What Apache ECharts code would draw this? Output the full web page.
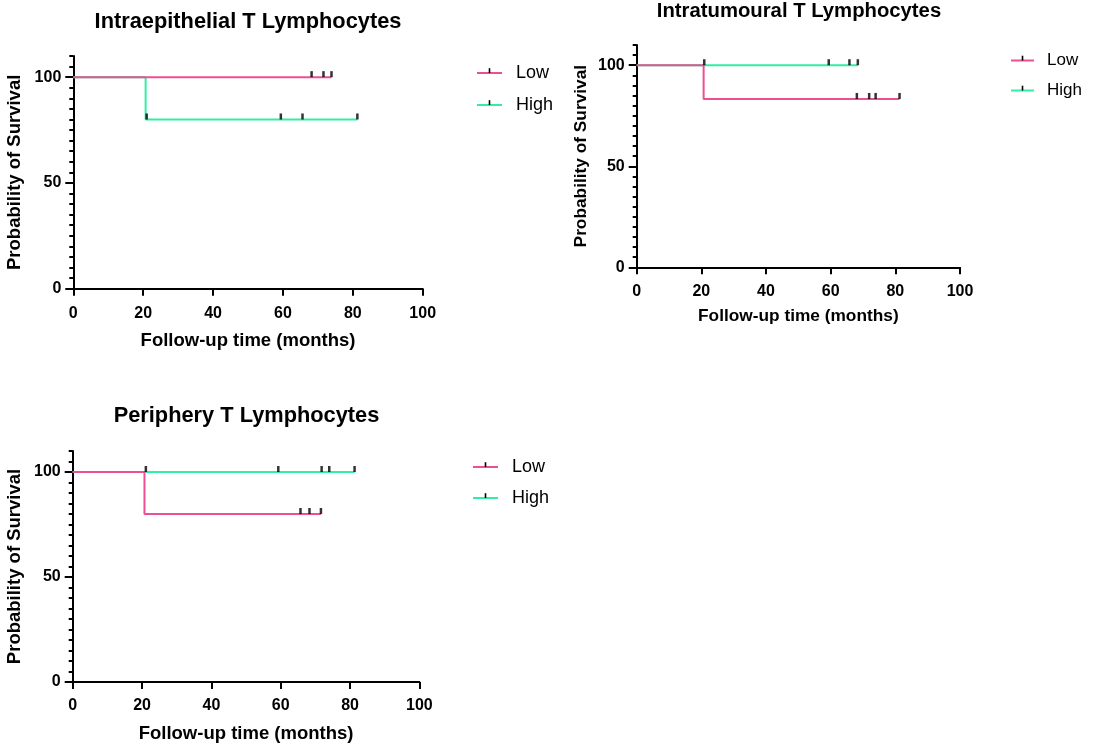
<!DOCTYPE html>
<html>
<head>
<meta charset="utf-8">
<script src="https://cdn.jsdelivr.net/npm/echarts@6/dist/echarts.min.js"></script>
<style>
html,body{margin:0;padding:0;background:#fff;}
#main{width:1097px;height:744px;}
</style>
</head>
<body>
<div id="main"></div>
<script>
// ---- Data (Kaplan-Meier steps [months, % survival] and censor marks) ----
const titles = ['Intraepithelial T Lymphocytes', 'Intratumoural T Lymphocytes', 'Periphery T Lymphocytes'];
const groupNames = ['Low', 'High'];
const xTickValues = [0, 20, 40, 60, 80, 100];
const yTickValues = [0, 50, 100];

// Intraepithelial
const ieLowSteps = [[0, 100], [73.9, 100]];
const ieLowCensor = [[68.2, 100], [71.6, 100], [73.9, 100]];
const ieHighSteps = [[0, 100], [20.7, 80], [81.3, 80]];
const ieHighCensor = [[21.0, 80], [59.4, 80], [65.6, 80], [81.3, 80]];

// Intratumoural
const itLowSteps = [[0, 100], [20.7, 83.3], [81.3, 83.3]];
const itLowCensor = [[68.1, 83.3], [71.9, 83.3], [73.9, 83.3], [81.3, 83.3]];
const itHighSteps = [[0, 100], [68.4, 100]];
const itHighCensor = [[20.9, 100], [59.4, 100], [65.8, 100], [68.4, 100]];

// Periphery
const peLowSteps = [[0, 100], [20.7, 80], [71.6, 80]];
const peLowCensor = [[65.7, 80], [68.3, 80], [71.6, 80]];
const peHighSteps = [[0, 100], [81.3, 100]];
const peHighCensor = [[21.1, 100], [59.3, 100], [71.8, 100], [74.0, 100], [81.3, 100]];

// ---- Styling / layout ----
const FONT = '"Liberation Sans", Arial, Helvetica, sans-serif';
const PINK = '#EE4E93';
const GREEN = '#2EF0A2';
const legendTickPath = 'path://M0,0 M14,14 M6,1 L8,1 L8,7 L6,7 Z';

const panels = [
  { grid: { left: 73.3, top: 56, width: 349.4, height: 232.7 },
    title: { x: 248, y: 10.5, size: 21.8 }, tick: 16, name: 18.5, yGap: 49, xGap: 43, lm: 17,
    legend: { left: 476, top: 64, gap: 14, font: 18, w: 25, pad: 9 },
    low: [ieLowSteps, ieLowCensor], high: [ieHighSteps, ieHighCensor] },
  { grid: { left: 636.7, top: 45, width: 323.3, height: 222.3 },
    title: { x: 799, y: 1, size: 20.3 }, tick: 16, name: 17.3, yGap: 47, xGap: 40, lm: 16,
    legend: { left: 1010, top: 52, gap: 13, font: 17, w: 23, pad: 8 },
    low: [itLowSteps, itLowCensor], high: [itHighSteps, itHighCensor] },
  { grid: { left: 72.7, top: 451, width: 346.7, height: 231.7 },
    title: { x: 246.5, y: 405, size: 21.8 }, tick: 16, name: 18.5, yGap: 48, xGap: 42, lm: 16,
    legend: { left: 472, top: 458, gap: 13, font: 18, w: 25, pad: 9 },
    low: [peLowSteps, peLowCensor], high: [peHighSteps, peHighCensor] }
];

const option = {
  animation: false,
  backgroundColor: '#fff',
  title: [], legend: [], grid: [], xAxis: [], yAxis: [], series: []
};

panels.forEach((p, i) => {
  option.title.push({
    text: titles[i], left: p.title.x, top: p.title.y, textAlign: 'center', padding: 0,
    textStyle: { fontFamily: FONT, fontWeight: 'bold', fontSize: p.title.size, color: '#000' }
  });
  option.grid.push(Object.assign({ containLabel: false }, p.grid));
  option.xAxis.push({
    type: 'value', gridIndex: i, min: 0, max: 100, interval: 20, position: 'bottom',
    name: 'Follow-up time (months)', nameLocation: 'middle', nameGap: p.xGap,
    nameTextStyle: { fontFamily: FONT, fontWeight: 'bold', fontSize: p.name, color: '#000' },
    axisLine: { show: true, onZero: false, lineStyle: { color: '#000', width: 2 } },
    axisTick: { show: true, length: 7, lineStyle: { color: '#000', width: 2 } },
    axisLabel: { margin: p.lm, fontFamily: FONT, fontWeight: 'bold', fontSize: p.tick, color: '#000',
      customValues: xTickValues },
    splitLine: { show: false }
  });
  // minor ticks axis (with line and labels)
  option.yAxis.push({
    type: 'value', gridIndex: i, min: 0, max: 110, interval: 5, position: 'left', offset: 0,
    name: 'Probability of Survival', nameLocation: 'middle', nameGap: p.yGap,
    nameTextStyle: { fontFamily: FONT, fontWeight: 'bold', fontSize: p.name, color: '#000' },
    axisLine: { show: true, onZero: false, lineStyle: { color: '#000', width: 2 } },
    axisTick: { show: true, length: 4, lineStyle: { color: '#000', width: 2 } },
    axisLabel: { margin: 12, fontFamily: FONT, fontWeight: 'bold', fontSize: p.tick, color: '#000',
      formatter: v => (yTickValues.indexOf(v) >= 0 ? String(v) : '') },
    splitLine: { show: false }
  });
  // major ticks overlay axis
  option.yAxis.push({
    type: 'value', gridIndex: i, min: 0, max: 110, interval: 50, position: 'left', offset: 0,
    axisLine: { show: false, onZero: false },
    axisTick: { show: true, length: 8, lineStyle: { color: '#000', width: 2 }, customValues: yTickValues },
    axisLabel: { show: false },
    splitLine: { show: false }
  });
  const yIdx = i * 2;
  option.legend.push({
    orient: 'vertical', left: p.legend.left, top: p.legend.top, padding: 0,
    itemWidth: p.legend.w, itemHeight: 14, itemGap: p.legend.gap,
    data: groupNames,
    textStyle: { fontFamily: FONT, fontSize: p.legend.font, color: '#000', padding: [0, 0, 0, p.legend.pad] },
    selectedMode: false
  });
  const groups = [[groupNames[1], p.high, GREEN], [groupNames[0], p.low, PINK]];
  groups.forEach(([name, d, color]) => {
    option.series.push({
      name: name, type: 'line', xAxisIndex: i, yAxisIndex: yIdx,
      data: d[0], step: 'end', showSymbol: false,
      symbol: legendTickPath, symbolSize: 12,
      itemStyle: { color: '#000' },
      lineStyle: { color: color, width: 2 },
      emphasis: { disabled: true }, silent: true, z: name === 'Low' ? 3 : 2
    });
    option.series.push({
      name: name + ' censored', type: 'scatter', xAxisIndex: i, yAxisIndex: yIdx,
      data: d[1], symbol: 'rect', symbolSize: [2.5, 6], symbolOffset: [0, '-50%'],
      itemStyle: { color: '#000' }, silent: true, z: 4
    });
  });
});

const chart = echarts.init(document.getElementById('main'), null, { renderer: 'canvas' });
chart.setOption(option);
</script>
</body>
</html>
